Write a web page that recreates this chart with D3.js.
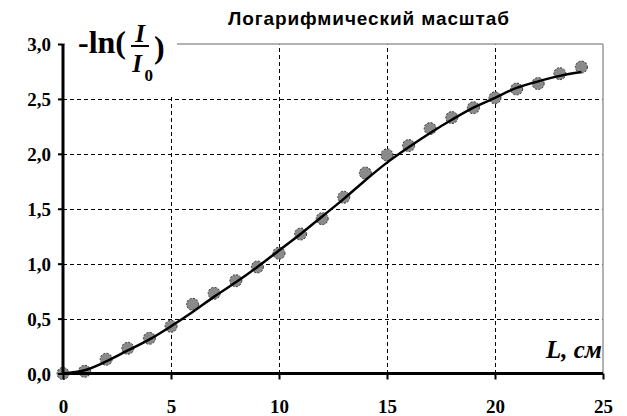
<!DOCTYPE html>
<html>
<head>
<meta charset="utf-8">
<script src="https://cdn.jsdelivr.net/npm/d3@7"></script>
<style>
  html, body { margin: 0; padding: 0; background: #fff; }
  svg { display: block; }
</style>
</head>
<body>
<script>
// Measured attenuation: thickness L (cm) vs -ln(I/I0)
const thickness = [0,1,2,3,4,5,6,7,8,9,10,11,12,13,14,15,16,17,18,19,20,21,22,23,24];
const attenuation = [0.00,0.02,0.13,0.23,0.32,0.43,0.63,0.73,0.845,0.97,1.095,1.27,1.41,1.605,1.825,1.99,2.075,2.23,2.33,2.42,2.51,2.59,2.64,2.73,2.79];
// Smooth fitted curve through the measurements
const fitValues = [0.00,0.03,0.11,0.21,0.31,0.43,0.56,0.70,0.83,0.97,1.12,1.27,1.43,1.59,1.76,1.92,2.06,2.19,2.31,2.42,2.51,2.60,2.66,2.71,2.745];
const xTicks = [0,5,10,15,20,25];
const yTicks = [0,0.5,1,1.5,2,2.5,3];
const title = "Логарифмический масштаб";
const xLabel = "L, см";

const W = 627, H = 416;
const svg = d3.select("body").append("svg").attr("width", W).attr("height", H);

const x = d3.scaleLinear().domain([0,25]).range([63,603]);
const y = d3.scaleLinear().domain([0,3]).range([373.5,44]);
const fmt = d => d3.format(".1f")(d).replace(".", ",");
const serif = "'Liberation Serif', 'Times New Roman', serif";

// grid
const grid = svg.append("g").attr("shape-rendering", "crispEdges");
grid.selectAll(".hg").data(yTicks.filter(d => d > 0 && d < 3)).join("line")
  .attr("x1", x(0)).attr("x2", x(25)).attr("y1", d => Math.round(y(d)) + 0.5).attr("y2", d => Math.round(y(d)) + 0.5)
  .attr("stroke", "#000").attr("stroke-width", 1).attr("stroke-dasharray", "4,3");
grid.selectAll(".vg").data(xTicks.filter(d => d > 0 && d < 25)).join("line")
  .attr("x1", d => Math.round(x(d)) + 0.5).attr("x2", d => Math.round(x(d)) + 0.5).attr("y1", y(0)).attr("y2", y(3))
  .attr("stroke", "#000").attr("stroke-width", 1).attr("stroke-dasharray", "4,3");

// frame: top and right in gray
svg.append("line").attr("x1", x(0)).attr("x2", x(25)).attr("y1", y(3)).attr("y2", y(3))
  .attr("stroke", "#999").attr("stroke-width", 1.5);
svg.append("line").attr("x1", x(25)).attr("x2", x(25)).attr("y1", y(3)).attr("y2", y(0))
  .attr("stroke", "#999").attr("stroke-width", 1.5);

// y axis label with white backing
svg.append("rect").attr("x", x(0) + 2).attr("y", 14).attr("width", 112).attr("height", 82).attr("fill", "#fff");
const lab = svg.append("g").attr("font-family", serif).attr("font-weight", "bold").attr("fill", "#000");
lab.append("text").attr("x", 78).attr("y", 53).attr("font-size", 32).text("-ln(");
lab.append("text").attr("x", 140).attr("y", 42).attr("font-size", 25).attr("font-style", "italic").attr("text-anchor", "middle").text("I");
lab.append("line").attr("x1", 131).attr("x2", 149).attr("y1", 46).attr("y2", 46).attr("stroke", "#000").attr("stroke-width", 2);
lab.append("text").attr("x", 137).attr("y", 72).attr("font-size", 25).attr("font-style", "italic").attr("text-anchor", "middle").text("I");
lab.append("text").attr("x", 144.5).attr("y", 81).attr("font-size", 17).text("0");
lab.append("text").attr("x", 154).attr("y", 58).attr("font-size", 32).text(")");

// points
svg.append("g").selectAll("circle").data(thickness).join("circle")
  .attr("cx", d => x(d)).attr("cy", (d, i) => y(attenuation[i])).attr("r", 6)
  .attr("fill", "#8a8a8a").attr("stroke", "#333").attr("stroke-width", 1).attr("stroke-dasharray", "2,1.5");

// fitted curve
const line = d3.line().x(d => x(d)).y((d, i) => y(fitValues[i])).curve(d3.curveCatmullRom);
svg.append("path").datum(thickness).attr("d", line)
  .attr("fill", "none").attr("stroke", "#000").attr("stroke-width", 2.5);

// axes
const yAxis = d3.axisLeft(y).tickValues(yTicks).tickFormat(fmt).tickSize(5).tickPadding(7);
const gy = svg.append("g").attr("transform", `translate(${x(0)},0)`).call(yAxis);
gy.select(".domain").attr("stroke", "#000").attr("stroke-width", 3).attr("d", `M0,${y(3)}V${y(0)}`);
gy.selectAll(".tick line").attr("stroke", "#000").attr("stroke-width", 2);
gy.selectAll(".tick text").attr("font-family", serif)
  .attr("font-weight", "bold").attr("font-size", 19).attr("fill", "#000").attr("dy", "0.35em");

const xAxis = d3.axisBottom(x).tickValues(xTicks).tickFormat(d3.format("d")).tickSize(6).tickPadding(20);
const gx = svg.append("g").attr("transform", `translate(0,${y(0)})`).call(xAxis);
gx.select(".domain").attr("stroke", "#000").attr("stroke-width", 3).attr("d", `M${x(0)},0H${x(25)}`);
gx.selectAll(".tick line").attr("stroke", "#000").attr("stroke-width", 2);
gx.selectAll(".tick text").attr("font-family", serif)
  .attr("font-weight", "bold").attr("font-size", 19).attr("fill", "#000");

// x axis label
svg.append("text").attr("x", 602).attr("y", 358).attr("text-anchor", "end")
  .attr("font-family", serif).attr("font-weight", "bold")
  .attr("font-style", "italic").attr("font-size", 25).text(xLabel);

// title
svg.append("text").attr("x", 228).attr("y", 25)
  .attr("font-family", "'Liberation Sans', Arial, sans-serif").attr("font-weight", "bold")
  .attr("font-size", 19).attr("textLength", 281).attr("lengthAdjust", "spacing").text(title);
</script>
</body>
</html>
